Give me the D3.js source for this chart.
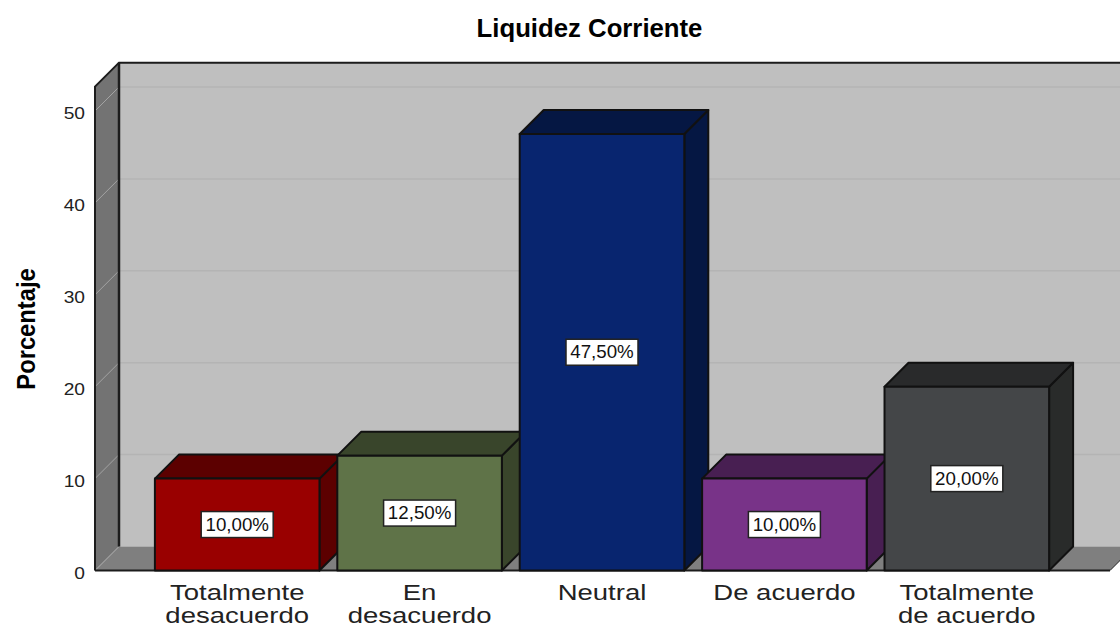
<!DOCTYPE html>
<html><head><meta charset="utf-8">
<script src="https://cdn.jsdelivr.net/npm/d3@7"></script>
<style>html,body{margin:0;padding:0;background:#fff;overflow:hidden}svg{display:block}text{font-family:"Liberation Sans",Arial,sans-serif}</style>
</head><body><svg id="c" width="1120" height="628"></svg>
<script>
const categories = [["Totalmente","desacuerdo"],["En","desacuerdo"],["Neutral"],["De acuerdo"],["Totalmente","de acuerdo"]];
const values = [10, 12.5, 47.5, 10, 20];
const valueLabels = ["10,00%","12,50%","47,50%","10,00%","20,00%"];
const frontColors = ["#990000","#5f7348","#08256f","#783388","#444648"];
const topColors = ["#5c0000","#39452b","#051743","#481f52","#292a2b"];
const sideColors = ["#5c0000","#39452b","#051743","#481f52","#292b2a"];
const yTicks = [0,10,20,30,40,50];
const title = "Liquidez Corriente";
const yTitle = "Porcentaje";

const svg = d3.select("#c");
const depth = 24;
const y = d3.scaleLinear().domain([0,50]).range([570.5,111]);
const x = d3.scaleBand().domain(categories.map((d,i)=>i)).range([146,1058]).paddingInner(0.0977).paddingOuter(0.0488);
const leftX = 95, rightX = 1110, topY = y(52.65), base = y(0);
const poly = pts => pts.map(p=>p.join(",")).join(" ");

// walls
svg.append("polygon").attr("points",poly([[leftX+depth,topY-depth],[rightX+depth,topY-depth],[rightX+depth,base-depth],[leftX+depth,base-depth]])).attr("fill","#bfbfbf");
svg.append("polygon").attr("points",poly([[leftX,topY],[leftX+depth,topY-depth],[leftX+depth,base-depth],[leftX,base]])).attr("fill","#737373");
svg.append("polygon").attr("points",poly([[leftX,base],[leftX+depth,base-depth],[rightX+depth,base-depth],[rightX,base]])).attr("fill","#7f7f7f");

// gridlines
const grid = svg.append("g");
yTicks.filter(t=>t>0).forEach(t=>{
  grid.append("line").attr("x1",leftX+depth).attr("x2",rightX+depth).attr("y1",y(t)-depth).attr("y2",y(t)-depth).attr("stroke","#b4b4b4").attr("stroke-width",1.5);
});
yTicks.forEach(t=>{
  grid.append("line").attr("x1",leftX).attr("x2",leftX+depth).attr("y1",y(t)).attr("y2",y(t)-depth).attr("stroke","#a3a3a3").attr("stroke-width",1);
});

// frame
const edge = "#1c1c1c";
svg.append("path").attr("d",`M${leftX},${base}V${topY}L${leftX+depth},${topY-depth}H${rightX+depth}`).attr("fill","none").attr("stroke",edge).attr("stroke-width",2);
svg.append("line").attr("x1",leftX+depth).attr("x2",leftX+depth).attr("y1",topY-depth).attr("y2",base-depth).attr("stroke",edge).attr("stroke-width",2.5);
svg.append("line").attr("x1",leftX).attr("x2",rightX).attr("y1",base).attr("y2",base).attr("stroke",edge).attr("stroke-width",2);
svg.append("line").attr("x1",rightX).attr("x2",rightX+depth).attr("y1",base).attr("y2",base-depth).attr("stroke","#222").attr("stroke-width",1);

// bars
const bars = svg.selectAll("g.bar").data(values).join("g").attr("class","bar");
bars.each(function(v,i){
  const g = d3.select(this), x0=x(i), x1=x0+x.bandwidth(), yt=y(v);
  const common = s=>s.attr("stroke","#111").attr("stroke-width",2).attr("stroke-linejoin","round");
  g.append("polygon").attr("points",poly([[x1,yt],[x1+depth,yt-depth],[x1+depth,base-depth],[x1,base]])).attr("fill",sideColors[i]).call(common);
  g.append("polygon").attr("points",poly([[x0,yt],[x0+depth,yt-depth],[x1+depth,yt-depth],[x1,yt]])).attr("fill",topColors[i]).call(common);
  g.append("rect").attr("x",x0).attr("y",yt).attr("width",x.bandwidth()).attr("height",base-yt).attr("fill",frontColors[i]).call(common);
  const cx=(x0+x1)/2, cy=(yt+base)/2;
  g.append("rect").attr("x",cx-36).attr("y",cy-13).attr("width",72).attr("height",26).attr("fill","#fff").attr("stroke","#222").attr("stroke-width",1.5);
  g.append("text").attr("transform",`translate(${cx},${cy+6}) scale(1.07,1)`).attr("text-anchor","middle").attr("font-size",17.5).attr("fill","#111").text(valueLabels[i]);
});

// y axis
const yAxis = svg.append("g").attr("transform",`translate(${leftX},0)`).call(d3.axisLeft(y).tickValues(yTicks).tickSize(0).tickPadding(0));
yAxis.select(".domain").remove();
yAxis.selectAll("text").attr("x",0).attr("dy",null).attr("y",0)
  .attr("transform","translate(-10,7.5) scale(1.13,1)")
  .attr("font-size",17).attr("fill","#222").style("font-family",'"Liberation Sans",Arial,sans-serif');

// x axis labels
const xl = svg.selectAll("text.cat").data(categories).join("text").attr("class","cat")
  .attr("text-anchor","middle").attr("font-size",22).attr("fill","#222")
  .attr("transform",(d,i)=>`translate(${x(i)+x.bandwidth()/2},600) scale(1.25,1)`);
xl.each(function(d){
  d3.select(this).selectAll("tspan").data(d).join("tspan").attr("x",0).attr("y",(t,j)=>j*23).text(t=>t);
});

svg.append("text").attr("transform","translate(589.5,36.5) scale(1.03,1)").attr("text-anchor","middle").attr("font-size",25).attr("font-weight","bold").attr("fill","#000").text(title);
svg.append("text").attr("transform","translate(35,329) rotate(-90) scale(0.95,1)").attr("text-anchor","middle").attr("font-size",25).attr("font-weight","bold").attr("fill","#000").text(yTitle);
</script></body></html>
